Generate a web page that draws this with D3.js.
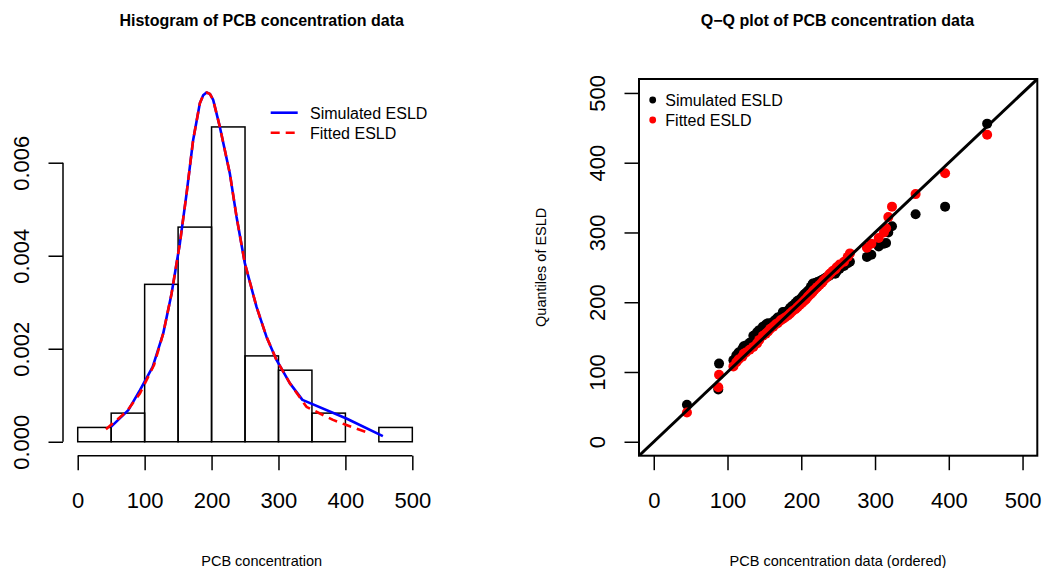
<!DOCTYPE html>
<html><head><meta charset="utf-8">
<script src="https://cdn.jsdelivr.net/npm/d3@7"></script>
<style>
body{margin:0;background:#fff;}
svg{display:block;font-family:"Liberation Sans",Arial,Helvetica,sans-serif;}
</style></head>
<body><svg id="c" width="1044" height="568"></svg>
<script>
// ---------- data ----------
const histBreaks = [0,50,100,150,200,250,300,350,400,450,500];
const histCounts = [1,2,11,15,22,6,5,2,0,1];
const histXTicks = [0,100,200,300,400,500];
const histYTicks = [0,0.002,0.004,0.006];
const simCurveX = [49.7,75.6,93,112,127.8,140.3,152.7,162.7,172.5,182.5,187.5,192.5,197.5,202.4,212.4,227.3,237.3,249.7,267.2,282,297,316.9,335.8,401.5,456];
const simCurveY = [0.00032,0.00068,0.00111,0.00161,0.00233,0.00319,0.00427,0.00534,0.00649,0.00728,0.00745,0.00751,0.00748,0.00735,0.00677,0.00577,0.00484,0.00384,0.0029,0.00226,0.00176,0.00126,0.0009,0.0005,0.00012];
const fitCurveX = [42.2,73.1,93,114,127.8,140.3,152.7,162.7,172.5,182.5,187.5,192.5,197.5,202.4,212.4,227.3,237.3,249.7,267.2,282,297,316.9,341.8,381.5,401.5,436.3];
const fitCurveY = [0.00027,0.00065,0.00104,0.00165,0.00233,0.00319,0.00427,0.00534,0.00649,0.00728,0.00745,0.00751,0.00748,0.00735,0.00677,0.00577,0.00484,0.00384,0.0029,0.00226,0.00176,0.00126,0.00075,0.00047,0.00036,0.00018];

const pcbOrdered = [45,87.5,88.5,108,112,115,120,122,125,130,135,140,143,148,152,155,158,162,165,168,172,175,178,182,185,188,192,195,198,201,203,205,207,209,211,213,215,216,218,220,222,225,228,230,233,236,238,240,243,246,248,252,258,263,266,289,295,305,312,315,318,323,355,395,452];
const simQuant = [53,75,112,117,124,128,133,137,138,142,152,157,160,165,168,170,167,172,175,178,180,186,186,188,192,195,199,202,204,207,210,212,214,216,218,222,225,227,227,228,229,230,232,233,235,237,238,240,242,241,244,248,252,256,258,265,268,280,284,285,300,309,326,337,456];
const fitQuant = [42,78,96,108,114,118,122,126,128,132,136,141,146,152,155,158,162,165,168,170,174,176,178,181,184,187,190,193,196,199,201,203,205,208,210,212,214,216,218,220,222,225,228,231,234,237,240,242,245,247,250,254,258,265,270,278,284,292,300,306,322,337,355,385,440];
const qqTicks = [0,100,200,300,400,500];
const legendLabels = ["Simulated ESLD","Fitted ESLD"];

// ---------- drawing ----------
const svg = d3.select("#c");
const FONT_TICK = 22, FONT_LAB = 14.5, FONT_TITLE = 16, FONT_LEG = 16;

// Left panel: histogram
const xH = d3.scaleLinear().domain([-22,572]).range([63,460.5]);
const yH = d3.scaleLinear().domain([-0.0003,0.0078]).range([455.7,79]);
const n = d3.sum(histCounts);
const bins = histCounts.map((c,i)=>({x0:histBreaks[i],x1:histBreaks[i+1],d:c/(n*(histBreaks[i+1]-histBreaks[i]))}));

const gL = svg.append("g");
gL.selectAll("rect.bar").data(bins.filter(b=>b.d>0)).join("rect")
  .attr("x",b=>xH(b.x0)).attr("width",b=>xH(b.x1)-xH(b.x0))
  .attr("y",b=>yH(b.d)).attr("height",b=>yH(0)-yH(b.d))
  .attr("fill","none").attr("stroke","#000").attr("stroke-width",1.5);

const line = d3.line().x(d=>xH(d[0])).y(d=>yH(d[1]));
gL.append("path").datum(simCurveX.map((x,i)=>[x,simCurveY[i]]))
  .attr("d",line).attr("fill","none").attr("stroke","#0000ff").attr("stroke-width",2.6)
  .attr("stroke-linejoin","round");
gL.append("path").datum(fitCurveX.map((x,i)=>[x,fitCurveY[i]]))
  .attr("d",line).attr("fill","none").attr("stroke","#ff0000").attr("stroke-width",2.6)
  .attr("stroke-dasharray","9,6").attr("stroke-linejoin","round");

// left x axis
const axXH = gL.append("g").attr("transform","translate(0,455.7)")
  .call(d3.axisBottom(xH).tickValues(histXTicks).tickSize(14.5).tickSizeOuter(0));
axXH.select(".domain").attr("d",`M${xH(0)},0H${xH(500)}`);
// left y axis
const axYH = gL.append("g").attr("transform","translate(63,0)")
  .call(d3.axisLeft(yH).tickValues(histYTicks).tickFormat(d3.format(".3f")).tickSize(14.5).tickSizeOuter(0));
axYH.select(".domain").attr("d",`M0,${yH(0)}V${yH(0.006)}`);

// Right panel: Q-Q
const xQ = d3.scaleLinear().domain([-20,520]).range([639,1037.3]);
const yQ = d3.scaleLinear().domain([-20,520]).range([455.7,79]);
const gR = svg.append("g");
gR.append("defs").append("clipPath").attr("id","qqclip").append("rect")
  .attr("x",639).attr("y",79).attr("width",1037.3-639).attr("height",455.7-79);
const pts = gR.append("g").attr("clip-path","url(#qqclip)");
pts.selectAll("circle.sim").data(pcbOrdered.map((x,i)=>[x,simQuant[i]])).join("circle")
  .attr("class","sim").attr("cx",d=>xQ(d[0])).attr("cy",d=>yQ(d[1])).attr("r",5).attr("fill","#000");
pts.selectAll("circle.fit").data(pcbOrdered.map((x,i)=>[x,fitQuant[i]])).join("circle")
  .attr("class","fit").attr("cx",d=>xQ(d[0])).attr("cy",d=>yQ(d[1])).attr("r",5).attr("fill","#ff0000");
pts.append("line").attr("x1",xQ(-20)).attr("y1",yQ(-20)).attr("x2",xQ(520)).attr("y2",yQ(520))
  .attr("stroke","#000").attr("stroke-width",3);
gR.append("rect").attr("x",639).attr("y",79).attr("width",1037.3-639).attr("height",455.7-79)
  .attr("fill","none").attr("stroke","#000").attr("stroke-width",2);

const axXQ = gR.append("g").attr("transform","translate(0,455.7)")
  .call(d3.axisBottom(xQ).tickValues(qqTicks).tickSize(14.5).tickSizeOuter(0));
axXQ.select(".domain").remove();
const axYQ = gR.append("g").attr("transform","translate(639,0)")
  .call(d3.axisLeft(yQ).tickValues(qqTicks).tickSize(14.5).tickSizeOuter(0));
axYQ.select(".domain").remove();

// style all axes
svg.selectAll(".tick line").attr("stroke","#000").attr("stroke-width",1.5);
svg.selectAll(".domain").attr("stroke","#000").attr("stroke-width",1.5);
svg.selectAll(".tick text").attr("fill","#000").style("font-size",FONT_TICK+"px")
  .style("font-family","'Liberation Sans',Arial,sans-serif");
[axXH,axXQ].forEach(a=>a.selectAll(".tick text").attr("y",52.6).attr("dy",0));
[axYH,axYQ].forEach(a=>a.selectAll(".tick text")
  .attr("transform","rotate(-90)").attr("x",0).attr("y",-34.5).attr("dy",0).attr("text-anchor","middle"));

// titles & labels
const txt = (x,y,s,size,weight,anchor,rot)=>{
  const t = svg.append("text").attr("x",x).attr("y",y).text(s)
    .style("font-size",size+"px").style("font-weight",weight||"normal")
    .attr("text-anchor",anchor||"middle").attr("fill","#000");
  if(rot) t.attr("transform",`rotate(${rot},${x},${y})`);
  return t;
};
txt(261.7,26.2,"Histogram of PCB concentration data",FONT_TITLE,"bold");
txt(837.5,26.2,"Q\u2212Q plot of PCB concentration data",FONT_TITLE,"bold");
txt(261.7,566,"PCB concentration",FONT_LAB);
txt(838,566,"PCB concentration data (ordered)",FONT_LAB);
txt(546,267.3,"Quantiles of ESLD",FONT_LAB,"normal","middle",-90);

// legends
const legL = svg.append("g");
legL.append("line").attr("x1",270.7).attr("x2",297.7).attr("y1",112.7).attr("y2",112.7)
  .attr("stroke","#0000ff").attr("stroke-width",2.6);
legL.append("line").attr("x1",270.7).attr("x2",297.7).attr("y1",132.7).attr("y2",132.7)
  .attr("stroke","#ff0000").attr("stroke-width",2.6).attr("stroke-dasharray","9,6");
txt(310,119,legendLabels[0],FONT_LEG,"normal","start");
txt(310,139,legendLabels[1],FONT_LEG,"normal","start");

const legR = svg.append("g");
legR.append("circle").attr("cx",652.7).attr("cy",100).attr("r",3.4).attr("fill","#000");
legR.append("circle").attr("cx",652.7).attr("cy",120).attr("r",3.4).attr("fill","#ff0000");
txt(665.3,105.7,legendLabels[0],FONT_LEG,"normal","start");
txt(665.3,125.7,legendLabels[1],FONT_LEG,"normal","start");
</script>
</body></html>
